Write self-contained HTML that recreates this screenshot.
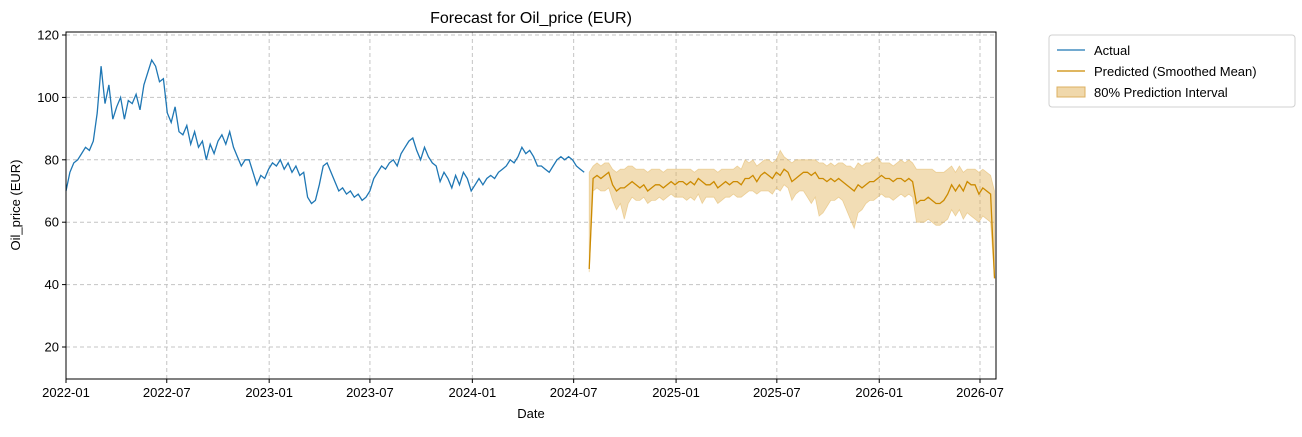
<!DOCTYPE html>
<html><head><meta charset="utf-8"><style>
body{margin:0;background:#fff;}
svg{font-family:"Liberation Sans","DejaVu Sans",sans-serif;}
</style></head><body>
<svg id="chart" width="1302" height="432" viewBox="0 0 1302 432" xmlns="http://www.w3.org/2000/svg">
<rect width="1302" height="432" fill="#fff"/>
<g id="grid"></g>
<g id="band"></g>
<g id="lines"></g>
<rect x="66" y="32" width="930" height="347" fill="none" stroke="#000" stroke-width="1"/>
<g id="ticks"></g>
<text x="531" y="23" font-size="16" text-anchor="middle">Forecast for Oil_price (EUR)</text>
<text x="531" y="418" font-size="13" text-anchor="middle">Date</text>
<text x="20" y="205" font-size="13" text-anchor="middle" transform="rotate(-90 20 205)">Oil_price (EUR)</text>
<g>
<rect x="1049" y="35" width="246" height="72" rx="3" fill="#fff" stroke="#d0d0d0"/>
<g><line x1="1057" y1="50" x2="1085" y2="50" stroke="#1f77b4" stroke-width="1.3"/><text x="1094" y="55" font-size="13">Actual</text></g>
<g><line x1="1057" y1="71" x2="1085" y2="71" stroke="#cc8a00" stroke-width="1.3"/><text x="1094" y="76" font-size="13">Predicted (Smoothed Mean)</text></g>
<g><rect x="1057" y="87" width="28" height="10" fill="#e9c888" fill-opacity="0.7" stroke="#ddb060"/><text x="1094" y="97" font-size="13">80% Prediction Interval</text></g>
</g>
</svg>
<script>
const actual = [70,76,79,80,82,84,83,86,95,110,98,104,93,97,100,93,99,98,101,96,104,108,112,110,105,106,95,92,97,89,88,91,85,89,84,86,80,85,82,86,88,85,89,84,81,78,80,80,76,72,75,74,
77,79,78,80,77,79,76,78,75,76,68,66,67,72,78,79,76,73,70,71,69,70,68,69,67,68,70,74,76,78,77,79,80,78,82,84,86,87,83,80,84,81,79,78,73,76,74,71,75,72,76,74,
70,72,74,72,74,75,74,76,77,78,80,79,81,84,82,83,81,78,78,77,76,78,80,81,80,81,80,78,77,76];
const predMean = [45,74,75,74,75,76,72,70,71,71,72,73,72,71,72,70,71,72,72,71,72,73,72,73,73,72,73,72,74,73,72,72,73,71,72,73,72,73,73,72,74,74,75,73,75,76,75,74,76,75,77,76,73,74,75,76,76,75,76,74,74,73,74,73,74,73,72,71,70,72,71,72,73,73,74,75,74,74,73,74,74,73,74,73,66,67,67,68,67,66,66,67,69,72,70,72,70,73,72,72,69,71,70,69,42];
const predHi = [76,78,79,78,79,79,77,76,77,77,78,78,77,77,77,76,77,77,77,76,77,77,77,77,77,77,77,76,77,77,77,77,77,76,77,77,77,77,78,77,80,79,80,78,79,80,80,79,80,83,81,80,79,80,80,80,80,80,80,79,79,78,79,78,79,79,78,78,77,79,78,79,79,80,81,79,79,79,78,79,80,79,80,79,77,77,77,77,77,76,76,76,77,78,76,78,76,77,77,77,76,77,76,75,70];
const predLo = [44,70,71,70,70,71,67,64,66,61,66,68,67,67,68,66,67,67,68,67,68,69,68,68,68,67,68,67,69,66,68,68,68,66,67,68,68,69,68,68,69,70,70,69,70,70,70,69,71,70,72,71,67,69,70,70,68,66,68,62,63,65,67,67,68,67,64,61,58,63,64,66,67,67,68,69,68,68,67,68,69,68,69,68,60,60,60,61,60,59,59,60,61,64,62,64,61,63,62,61,60,62,61,60,42];
const yTicks = [20,40,60,80,100,120];
const xTicks = ["2022-01","2022-07","2023-01","2023-07","2024-01","2024-07","2025-01","2025-07","2026-01","2026-07"];

const X0=66,X1=996,Y0=32,Y1=379;
const dayMs=86400000, base=Date.UTC(2022,0,1);
function xDay(d){return X0 + d*(914/1642);}
function xDate(s){const [y,m]=s.split('-').map(Number);return xDay((Date.UTC(y,m-1,1)-base)/dayMs);}
function yv(v){return 347 - (v-20)*3.12;}
const NS="http://www.w3.org/2000/svg";
function mk(tag,attrs,parent){const e=document.createElementNS(NS,tag);for(const k in attrs)e.setAttribute(k,attrs[k]);parent.appendChild(e);return e;}
const grid=document.getElementById('grid'), ticks=document.getElementById('ticks');
yTicks.forEach(v=>{
  const y=yv(v);
  const g=mk('line',{x1:X0,x2:X1,y1:y,y2:y,stroke:'#c4c4c4','stroke-dasharray':'4,3','stroke-width':1},grid);
  
  
  mk('line',{x1:X0-4,x2:X0,y1:y,y2:y,stroke:'#000'},ticks);
  const t=mk('text',{x:X0-7,y:y+4.5,'font-size':13,'text-anchor':'end'},ticks);
  t.textContent=v;
  
  
});
xTicks.forEach(s=>{
  const x=xDate(s);
  const g=mk('line',{x1:x,x2:x,y1:Y0,y2:Y1,stroke:'#c4c4c4','stroke-dasharray':'4,3','stroke-width':1},grid);
  
  
  mk('line',{x1:x,x2:x,y1:Y1,y2:Y1+4,stroke:'#000'},ticks);
  const t=mk('text',{x:x,y:Y1+18,'font-size':13,'text-anchor':'middle'},ticks);
  t.textContent=s;
  
  
});
const fStart=actual.length*7+2;
function fx(i){return Math.min(X1,xDay(fStart+i*7));}
let up=predHi.map((v,i)=>fx(i).toFixed(1)+','+yv(v).toFixed(1));
let dn=predLo.map((v,i)=>fx(i).toFixed(1)+','+yv(v).toFixed(1)).reverse();
const band=mk('polygon',{points:up.concat(dn).join(' '),fill:'#e2b45a','fill-opacity':0.45,stroke:'#e2b45a','stroke-opacity':0.5,'stroke-width':0.8},document.getElementById('band'));


const lines=document.getElementById('lines');
const a=mk('polyline',{points:actual.map((v,i)=>xDay(i*7).toFixed(1)+','+yv(v).toFixed(1)).join(' '),fill:'none',stroke:'#1f77b4','stroke-width':1.3},lines);


const p=mk('polyline',{points:predMean.map((v,i)=>fx(i).toFixed(1)+','+yv(v).toFixed(1)).join(' '),fill:'none',stroke:'#cc8a00','stroke-width':1.3},lines);


</script>
</body></html>
